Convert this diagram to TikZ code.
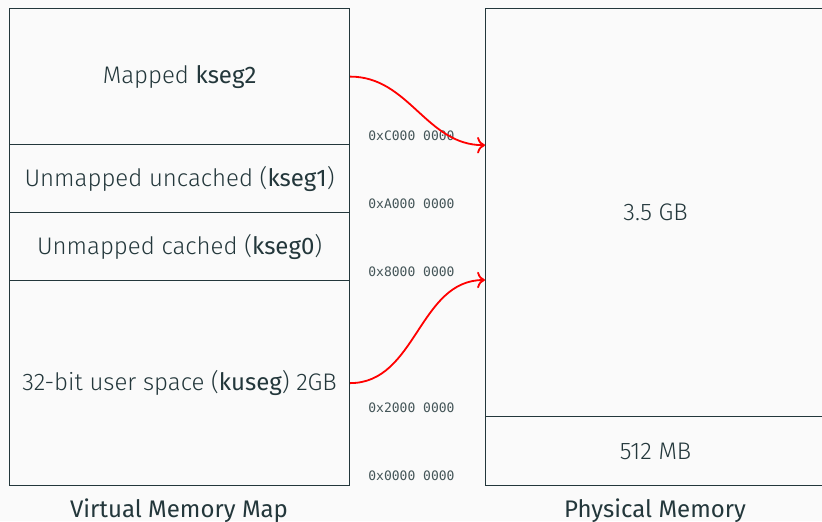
\documentclass[tikz,border=0pt]{standalone}
\usepackage{fontspec}
\setmainfont{Fira Sans Light}[BoldFont={Fira Sans}]
\newfontfamily\capfont{Fira Sans}
\setmonofont{DejaVu Sans Mono}
\usetikzlibrary{arrows.meta}
\definecolor{mDarkTeal}{HTML}{23373B}
\definecolor{mBg}{HTML}{FAFAFA}

\begin{document}
\begin{tikzpicture}[x=0.5pt,y=-0.5pt,
  seg/.style={draw=mDarkTeal,line width=0.6pt,inner sep=0pt,minimum width=170pt,anchor=north west,text=mDarkTeal,font=\fontsize{12}{14}\selectfont},
  addr/.style={anchor=base west,inner sep=0pt,text=mDarkTeal!85,font=\ttfamily\fontsize{6.5}{8}\selectfont},
  title/.style={text=mDarkTeal,font=\capfont\fontsize{12}{14}\selectfont},
  map/.style={red,line width=0.9pt,-{To[scale=1.1]}}]
\fill[mBg] (0,0) rectangle (822,521);
\useasboundingbox (0,0) rectangle (822,521);
% virtual memory map
\node[seg,minimum height=68pt] (kseg2) at (9,8) {Mapped \textbf{kseg2}};
\node[seg,minimum height=34pt] (kseg1) at (9,144) {Unmapped uncached (\textbf{kseg1})};
\node[seg,minimum height=34pt] (kseg0) at (9,212) {Unmapped cached (\textbf{kseg0})};
\node[seg,minimum height=102.5pt] (kuseg) at (9,280) {32-bit user space (\textbf{kuseg}) 2GB};
\node[title] (vmm) at (179,511) {Virtual Memory Map};
% physical memory
\node[seg,minimum height=204pt] (phigh) at (485,8) {3.5 GB};
\node[seg,minimum height=34.5pt] (plow) at (485,416) {512 MB};
\node[title] (pm) at (655,511) {Physical Memory};
% addresses
\node[addr] (aC) at (368,140.5) {0xC000 0000};
\node[addr] (aA) at (368,208.5) {0xA000 0000};
\node[addr] (a8) at (368,276.5) {0x8000 0000};
\node[addr] (a2) at (368,412.5) {0x2000 0000};
\node[addr] (a0) at (368,480.5) {0x0000 0000};
% mappings
\draw[map] (kseg2.east) to[out=0,in=180] (phigh.west |- kseg2.south);
\draw[map] (kuseg.east) to[out=0,in=180] (phigh.west |- kuseg.north);
\end{tikzpicture}
\end{document}
